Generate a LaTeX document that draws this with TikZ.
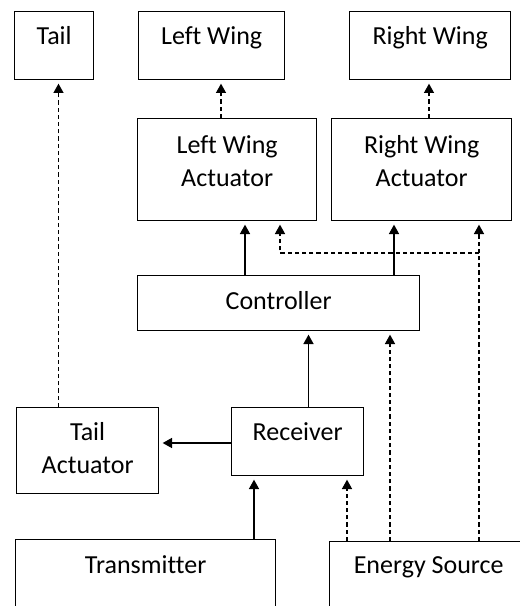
\documentclass[tikz,border=0pt]{standalone}
\usepackage{fontspec}
\setmainfont{Carlito}[Ligatures=NoCommon]
\usetikzlibrary{arrows.meta}
\begin{document}
\begin{tikzpicture}[x=0.75pt,y=-0.75pt,
  box/.style={draw,line width=1pt,rectangle,inner sep=0pt,anchor=north west},
  txt/.style={font=\fontsize{19.5pt}{24.75pt}\selectfont,align=center,anchor=base,inner sep=0pt},
  sarr/.style={line width=1pt,-{Triangle[length=7pt,width=7.5pt]},shorten >=2.5pt},
  darr/.style={line width=1pt,dash pattern=on 3.2pt off 2.2pt,-{Triangle[length=7pt,width=7.5pt]},shorten >=2.5pt}]
\useasboundingbox (0,0) rectangle (520,606);
\clip (0,0) rectangle (520,606);
% boxes
\node[box,minimum width=59.25pt,minimum height=51pt] (tail) at (14,11) {};
\node[box,minimum width=109.5pt,minimum height=51pt] (lwing) at (138,11) {};
\node[box,minimum width=120.75pt,minimum height=51pt] (rwing) at (349,11) {};
\node[box,minimum width=134.25pt,minimum height=76.5pt] (lwa) at (137,118) {};
\node[box,minimum width=135pt,minimum height=76.5pt] (rwa) at (331,118) {};
\node[box,minimum width=211.5pt,minimum height=41.25pt] (ctrl) at (137,275) {};
\node[box,minimum width=106.5pt,minimum height=64.5pt] (tact) at (16,407) {};
\node[box,minimum width=99pt,minimum height=51pt] (recv) at (231,407) {};
\node[box,minimum width=195pt,minimum height=68.25pt] (trans) at (15,539) {};
\node[box,minimum width=148.5pt,minimum height=66.75pt] (es) at (329,541) {};
% texts
\node[txt] (tailT) at ([yshift=-25.5pt]tail.north) {Tail};
\node[txt] (lwingT) at ([yshift=-25.5pt]lwing.north) {Left Wing};
\node[txt] (rwingT) at ([yshift=-25.5pt]rwing.north) {Right Wing};
\node[txt] (lwaT) at ([yshift=-51pt]lwa.north) {Left Wing\\Actuator};
\node[txt] (rwaT) at ([yshift=-51pt]rwa.north) {Right Wing\\Actuator};
\node[txt] (ctrlT) at ([yshift=-25.5pt]ctrl.north) {Controller};
\node[txt] (tactT) at ([yshift=-49.5pt]tact.north) {Tail\\Actuator};
\node[txt] (recvT) at ([yshift=-24.75pt]recv.north) {Receiver};
\node[txt] (transT) at ([yshift=-25.5pt]trans.north) {Transmitter};
\node[txt] (esT) at ([yshift=-24pt]es.north) {Energy Source};
% x positions
\coordinate (xt) at (58.5,0);
\coordinate (xlw) at (221,0);
\coordinate (xrw) at (429,0);
\coordinate (xc1) at (245,0);
\coordinate (xc2) at (394,0);
\coordinate (xrc) at (308.5,0);
\coordinate (xtr) at (254,0);
\coordinate (xe1) at (347,0);
\coordinate (xe2) at (390,0);
\coordinate (xe3) at (479,0);
\coordinate (xb) at (280,0);
\coordinate (yra) at (0,443);
\coordinate (jn) at (479,253);
% connectors
\draw[darr] (tact.north -| xt) -- (tail.south -| xt);
\draw[darr] (lwa.north -| xlw) -- (lwing.south -| xlw);
\draw[darr] (rwa.north -| xrw) -- (rwing.south -| xrw);
\draw[sarr] (ctrl.north -| xc1) -- (lwa.south -| xc1);
\draw[sarr] (ctrl.north -| xc2) -- (rwa.south -| xc2);
\draw[sarr] (recv.north -| xrc) -- (ctrl.south -| xrc);
\draw[sarr] (recv.west |- yra) -- (tact.east |- yra);
\draw[sarr] (trans.north -| xtr) -- (recv.south -| xtr);
\draw[darr] (es.north -| xe1) -- (recv.south -| xe1);
\draw[darr] (es.north -| xe2) -- (ctrl.south -| xe2);
\draw[darr] (es.north -| xe3) -- (rwa.south -| xe3);
\draw[darr] (jn) -| (lwa.south -| xb);
\end{tikzpicture}
\end{document}
